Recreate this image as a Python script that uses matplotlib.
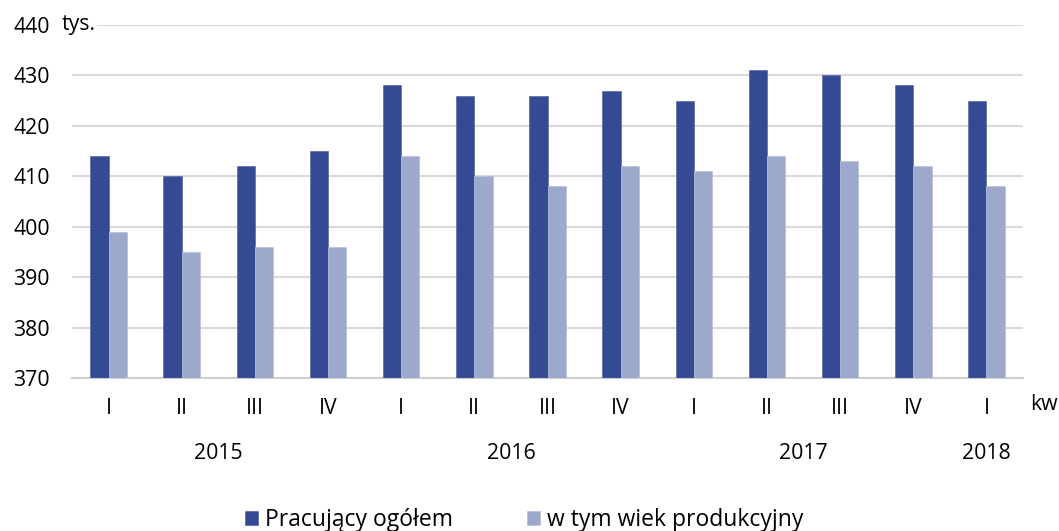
import matplotlib
matplotlib.use("Agg")
import matplotlib.pyplot as plt
import numpy as np

quarters = ["I", "II", "III", "IV", "I", "II", "III", "IV", "I", "II", "III", "IV", "I"]
years = ["2015", "2016", "2017", "2018"]
year_groups = [(0, 3), (4, 7), (8, 11), (12, 12)]
pracujacy = [414, 410, 412, 415, 428, 426, 426, 427, 425, 431, 430, 428, 425]
produkcyjny = [399, 395, 396, 396, 414, 410, 408, 412, 411, 414, 413, 412, 408]
yticks = [370, 380, 390, 400, 410, 420, 430, 440]

plt.rcParams['font.family'] = ['Open Sans', 'DejaVu Sans']
dark = "#344A92"
light = "#9CA8CC"
fs = 15.3

fig = plt.figure(figsize=(10.59, 5.31), dpi=100)
ax = fig.add_axes([0.068, 0.288, 0.898, 0.665])

x = np.arange(len(quarters))
w = 0.25
ax.bar(x - w/2, pracujacy, w, color=dark, edgecolor="#5a6aa8", linewidth=0.5, label="Pracujący ogółem", zorder=3)
ax.bar(x + w/2, produkcyjny, w, color=light, edgecolor="#b8c0dc", linewidth=0.5, label="w tym wiek produkcyjny", zorder=3)

ax.set_xlim(-0.5, len(quarters) - 0.5)
ax.set_ylim(370, 440)
ax.set_yticks(yticks)
ax.yaxis.grid(True, color="#d9d9d9", linewidth=1.5, zorder=0)
ax.set_axisbelow(True)
for s in ["top", "right", "left"]:
    ax.spines[s].set_visible(False)
ax.spines["bottom"].set_color("#d0d0d0")
ax.spines["bottom"].set_linewidth(1.5)
ax.tick_params(axis="y", length=0, pad=16, labelsize=fs)
ax.tick_params(axis="x", length=0, pad=14, labelsize=fs)
ax.set_xticks(x)
ax.set_xticklabels(quarters)

for yr, (a, b) in zip(years, year_groups):
    ax.text((a + b) / 2, 355.0, yr, ha="center", va="center", fontsize=fs)

ax.text(1.007, 364.8, "kw", transform=ax.get_yaxis_transform(), ha="left", va="center", fontsize=fs)
fig.text(0.0585, 0.953, "tys.", ha="left", va="center", fontsize=fs,
         bbox=dict(facecolor="white", edgecolor="none", pad=1), zorder=5)

leg = fig.legend(loc="center", bbox_to_anchor=(0.495, 1 - 520/531), ncol=2, frameon=False,
                 fontsize=16.5, handlelength=0.6, handleheight=0.6, columnspacing=3.2, handletextpad=0.3)

fig.savefig("out.png", dpi=100)
